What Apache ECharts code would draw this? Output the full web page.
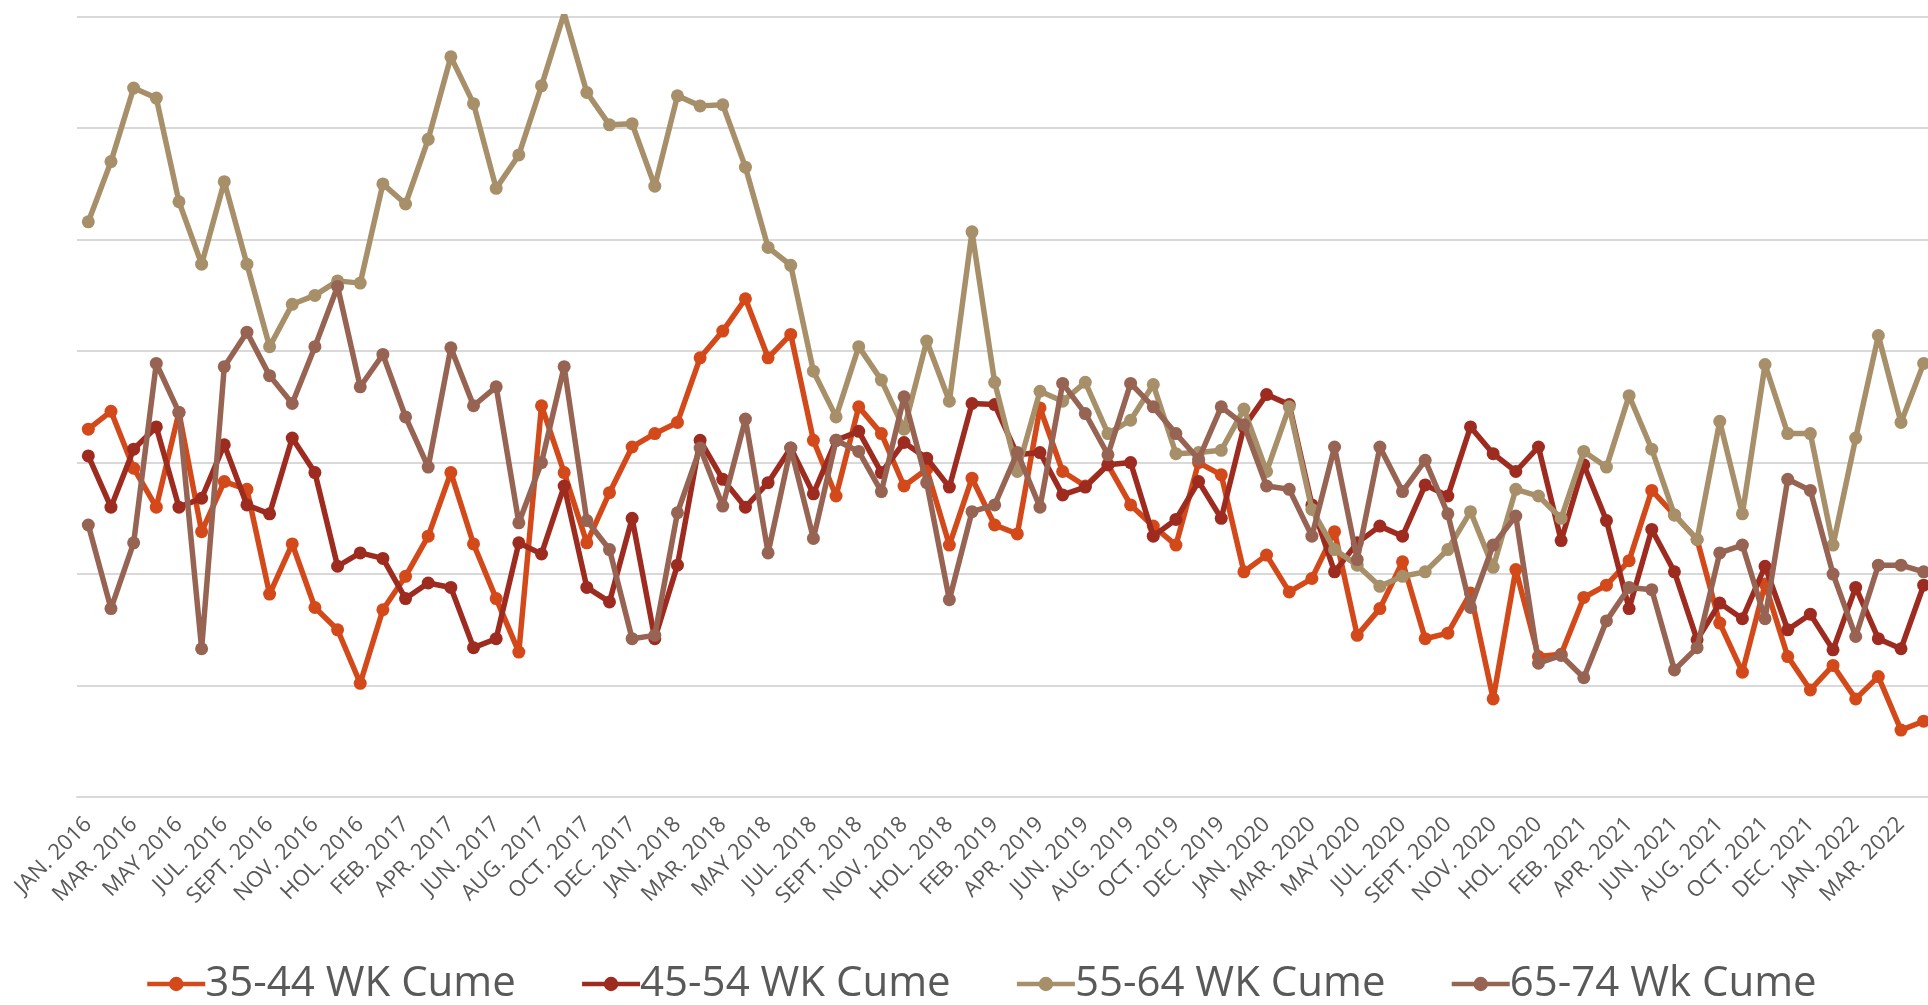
<!DOCTYPE html>
<html>
<head>
<meta charset="utf-8">
<script src="https://cdn.jsdelivr.net/npm/echarts@6/dist/echarts.min.js"></script>
<style>
html,body{margin:0;padding:0;background:#fff;overflow:hidden;width:1928px;height:1005px;}
#chart{width:1944px;height:1005px;}
</style>
</head>
<body>
<div id="chart"></div>
<script>
var categories = [
 'JAN. 2016','FEB. 2016','MAR. 2016','APR. 2016','MAY 2016','JUN. 2016','JUL. 2016','AUG. 2016','SEPT. 2016','OCT. 2016','NOV. 2016','DEC. 2016','HOL. 2016',
 'JAN. 2017','FEB. 2017','MAR. 2017','APR. 2017','MAY 2017','JUN. 2017','JUL. 2017','AUG. 2017','SEPT. 2017','OCT. 2017','NOV. 2017','DEC. 2017','HOL. 2017',
 'JAN. 2018','FEB. 2018','MAR. 2018','APR. 2018','MAY 2018','JUN. 2018','JUL. 2018','AUG. 2018','SEPT. 2018','OCT. 2018','NOV. 2018','DEC. 2018','HOL. 2018',
 'JAN. 2019','FEB. 2019','MAR. 2019','APR. 2019','MAY 2019','JUN. 2019','JUL. 2019','AUG. 2019','SEPT. 2019','OCT. 2019','NOV. 2019','DEC. 2019','HOL. 2019',
 'JAN. 2020','FEB. 2020','MAR. 2020','APR. 2020','MAY 2020','JUN. 2020','JUL. 2020','AUG. 2020','SEPT. 2020','OCT. 2020','NOV. 2020','DEC. 2020','HOL. 2020',
 'JAN. 2021','FEB. 2021','MAR. 2021','APR. 2021','MAY 2021','JUN. 2021','JUL. 2021','AUG. 2021','SEPT. 2021','OCT. 2021','NOV. 2021','DEC. 2021','HOL. 2021',
 'JAN. 2022','FEB. 2022','MAR. 2022','APR. 2022'
];

var seriesNames = ['35-44 WK Cume','45-54 WK Cume','55-64 WK Cume','65-74 Wk Cume'];

var cume3544 = [33.0,34.6,29.5,26.0,34.5,23.8,28.3,27.6,18.2,22.7,17.0,15.0,10.2,
 16.8,19.8,23.4,29.1,22.7,17.8,13.0,35.1,29.1,22.8,27.3,31.4,32.6,
 33.6,39.4,41.8,44.7,39.4,41.5,32.0,27.0,35.0,32.6,27.9,29.4,22.6,
 28.6,24.4,23.6,34.9,29.2,27.9,29.8,26.2,24.3,22.6,30.0,28.9,20.2,
 21.7,18.4,19.6,23.8,14.5,16.9,21.1,14.2,14.7,18.3,8.8,20.4,12.6,
 12.8,17.9,19.0,21.2,27.5,25.3,23.1,15.6,11.2,19.1,12.6,9.6,11.8,
 8.8,10.8,6.0,6.8];

var cume4554 = [30.6,26.0,31.2,33.2,26.0,26.8,31.6,26.2,25.4,32.2,29.1,20.7,21.9,
 21.4,17.8,19.2,18.8,13.4,14.2,22.8,21.8,27.9,18.8,17.5,25.0,14.2,
 20.8,32.0,28.5,26.0,28.2,31.3,27.2,32.0,32.8,29.1,31.8,30.4,27.8,
 35.3,35.2,30.7,30.9,27.1,27.8,29.8,30.0,23.4,24.9,28.3,25.0,33.2,
 36.1,35.2,26.2,20.2,22.8,24.3,23.4,28.0,27.0,33.2,30.8,29.2,31.4,
 23.0,29.8,24.8,16.9,24.0,20.2,14.1,17.4,16.0,20.7,15.0,16.4,13.2,
 18.8,14.2,13.3,19.0];

var cume5564 = [51.6,57.0,63.6,62.7,53.4,47.8,55.2,47.8,40.4,44.2,45.0,46.3,46.1,
 55.0,53.2,59.0,66.4,62.2,54.6,57.6,63.8,70.3,63.2,60.3,60.4,54.8,
 62.9,62.0,62.1,56.5,49.3,47.7,38.2,34.1,40.4,37.4,33.0,40.9,35.5,
 50.7,37.2,29.2,36.4,35.5,37.2,32.6,33.8,37.0,30.8,30.9,31.1,34.8,
 29.2,35.0,25.8,22.2,20.8,18.9,19.8,20.2,22.2,25.6,20.6,27.6,27.0,
 25.0,31.0,29.6,36.0,31.2,25.3,23.1,33.7,25.4,38.8,32.6,32.6,22.6,
 32.2,41.4,33.6,38.9];

var cume6574 = [24.4,16.9,22.8,38.9,34.5,13.3,38.6,41.7,37.8,35.3,40.4,45.8,36.8,
 39.7,34.1,29.6,40.3,35.1,36.8,24.6,30.0,38.6,24.8,22.2,14.2,14.5,
 25.5,31.3,26.1,33.9,21.9,31.3,23.2,32.0,31.0,27.4,35.9,28.2,17.7,
 25.6,26.2,30.9,26.0,37.1,34.4,30.7,37.1,35.0,32.6,30.3,35.0,33.4,
 27.9,27.6,23.4,31.4,21.3,31.4,27.4,30.2,25.4,17.0,22.6,25.2,12.0,
 12.7,10.7,15.8,18.8,18.6,11.4,13.4,21.9,22.6,16.0,28.5,27.5,20.0,
 14.4,20.8,20.8,20.2];

var colors = ['#D3491A','#9E2B1F','#A68F69','#976453'];
var seriesData = [cume3544, cume4554, cume5564, cume6574];

var chart = echarts.init(document.getElementById('chart'), null, {renderer:'canvas'});
var FONT = "'Open Sans', 'Noto Sans', sans-serif";

var series = seriesNames.map(function(name, k){
  return {
    name: name,
    type: 'line',
    data: seriesData[k],
    symbol: 'circle',
    symbolSize: 13,
    showSymbol: true,
    lineStyle: {width: 5.5, color: colors[k]},
    itemStyle: {color: colors[k]},
    z: 2 + k
  };
});

chart.setOption({
  animation: false,
  backgroundColor: '#ffffff',
  color: colors,
  grid: {left: 77, top: 16.7, width: 1858, height: 780.3, containLabel: false},
  xAxis: {
    type: 'category',
    data: categories,
    boundaryGap: true,
    axisLine: {show: true, lineStyle: {color: '#d9d9d9', width: 2}},
    axisTick: {show: false},
    axisLabel: {
      interval: 1,
      rotate: 45,
      margin: 24,
      fontSize: 22,
      color: '#595959',
      fontFamily: FONT
    }
  },
  yAxis: {
    type: 'value',
    min: 0,
    max: 70,
    interval: 10,
    axisLine: {show: false},
    axisTick: {show: false},
    axisLabel: {show: false},
    splitLine: {show: true, lineStyle: {color: '#d9d9d9', width: 2}}
  },
  legend: {
    show: true,
    left: 140,
    top: 958,
    itemWidth: 58,
    itemHeight: 18,
    itemGap: 64,
    lineStyle: {width: 4.5},
    textStyle: {fontSize: 42, color: '#595959', fontFamily: FONT, padding: [0,0,0,-5]},
    data: seriesNames
  },
  series: series
});
</script>
</body>
</html>
